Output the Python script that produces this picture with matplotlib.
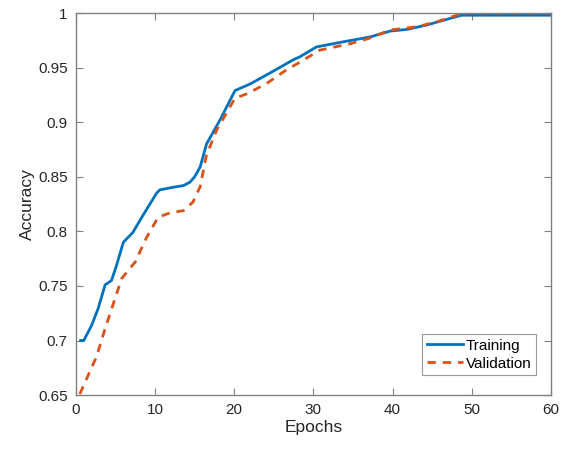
import matplotlib
matplotlib.use("Agg")
import matplotlib.pyplot as plt

# values
train_epochs = [0.6, 1.0, 2.0, 2.8, 3.7, 4.5, 5.1, 6.0, 7.2, 8.5, 10.2, 10.6, 12.0, 13.6,
                14.4, 15.0, 15.7, 16.5, 18.2, 20.1, 22.0, 24.5, 26.2, 27.4, 28.3, 30.4,
                33.8, 37.1, 39.7, 41.8, 44.3, 47.2, 48.7, 60.0]
train_acc = [0.700, 0.700, 0.714, 0.729, 0.751, 0.755, 0.768, 0.790, 0.799, 0.815, 0.835,
             0.838, 0.840, 0.842, 0.845, 0.850, 0.859, 0.880, 0.902, 0.929, 0.935, 0.945,
             0.952, 0.957, 0.960, 0.969, 0.9737, 0.978, 0.9835, 0.985, 0.989, 0.995, 0.998, 0.998]

val_epochs = [0.5, 2.6, 3.7, 4.7, 5.8, 6.6, 7.5, 8.9, 10.4, 11.9, 13.6, 14.8, 15.7, 16.5,
              17.8, 20.1, 21.6, 24.1, 26.6, 28.3, 30.8, 34.7, 37.1, 39.7, 43.1, 45.6,
              48.1, 49.0, 60.0]
val_acc = [0.651, 0.685, 0.711, 0.733, 0.757, 0.764, 0.772, 0.794, 0.813, 0.817, 0.819,
           0.827, 0.841, 0.870, 0.893, 0.922, 0.926, 0.9355, 0.948, 0.955, 0.966, 0.972,
           0.977, 0.9845, 0.9875, 0.992, 0.998, 1.0, 1.0]

xticks = [0, 10, 20, 30, 40, 50, 60]
yticks = [0.65, 0.7, 0.75, 0.8, 0.85, 0.9, 0.95, 1.0]
yticklabels = ["0.65", "0.7", "0.75", "0.8", "0.85", "0.9", "0.95", "1"]

plt.rcParams['font.family'] = ['Liberation Sans', 'DejaVu Sans']

fig = plt.figure(figsize=(5.66, 4.5), dpi=100)
ax = fig.add_axes([0.134, 0.122, 0.8395, 0.849])

ax.plot(train_epochs, train_acc, color='#0072BD', lw=2, label='Training')
ax.plot(val_epochs, val_acc, color='#D95319', lw=2, ls=(0, (3, 2.5)), label='Validation')

ax.set_xlim(0, 60)
ax.set_ylim(0.65, 1.0)
ax.set_xticks(xticks)
ax.set_yticks(yticks)
ax.set_yticklabels(yticklabels)

axis_col = '#808080'
for s in ax.spines.values():
    s.set_color(axis_col)
    s.set_linewidth(1.0)
ax.tick_params(direction='in', length=5, width=0.8, color=axis_col, labelsize=11,
               labelcolor='#262626', top=True, right=True)
ax.tick_params(axis='x', pad=6)
ax.tick_params(axis='y', pad=6)

ax.set_xlabel('Epochs', fontsize=12.5, color='#262626', labelpad=2)
ax.set_ylabel('Accuracy', fontsize=12.5, color='#262626', labelpad=2)

leg = ax.legend(loc='lower right', bbox_to_anchor=(0.968, 0.052), fontsize=11,
                frameon=True, fancybox=False, handlelength=2.4, handletextpad=0.15,
                borderpad=0.3, labelspacing=0.25, borderaxespad=0.0)
leg.get_frame().set_edgecolor(axis_col)
leg.get_frame().set_linewidth(0.8)

fig.savefig('out.png', dpi=100)
